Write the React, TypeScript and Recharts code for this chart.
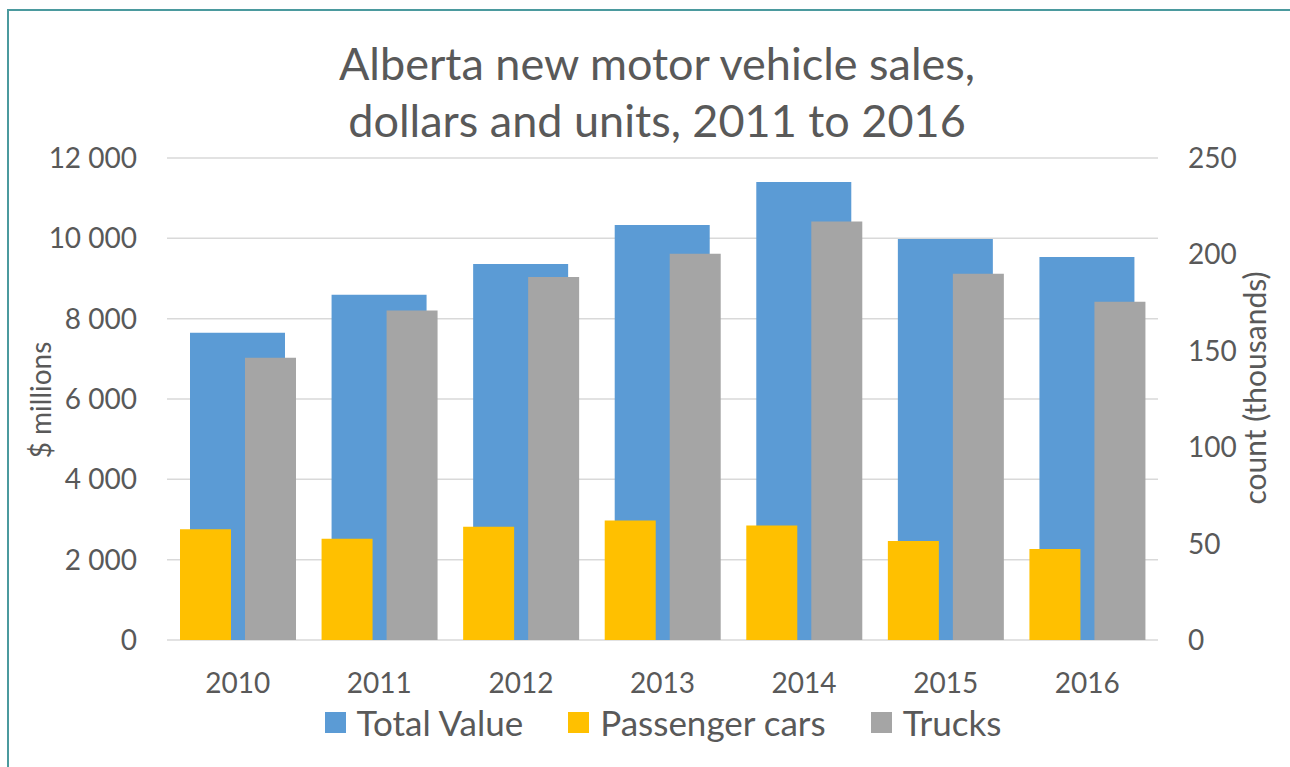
import React from 'react';
import { BarChart, Bar, XAxis, YAxis, CartesianGrid, Legend } from 'recharts';

const years = ['2010', '2011', '2012', '2013', '2014', '2015', '2016'];
const totalValue = [7647, 8593, 9363, 10333, 11403, 9985, 9537];
const passengerCars = [57.4, 52.5, 58.8, 62.0, 59.4, 51.3, 47.2];
const trucks = [146.4, 170.9, 188.3, 200.4, 217.0, 189.9, 175.5];

const leftTicks = [0, 2000, 4000, 6000, 8000, 10000, 12000];
const rightTicks = [0, 50, 100, 150, 200, 250];
const legendOrder = ['Total Value', 'Passenger cars', 'Trucks'];

const FONT = 'Lato, "Open Sans", sans-serif';
const TEXT = '#595959';

const data = years.map((y, i) => ({
  year: y,
  total: totalValue[i],
  cars: passengerCars[i],
  trucks: trucks[i],
}));

const spaced = (v: number) => String(v).replace(/\B(?=(\d{3})+(?!\d))/g, ' ');

const tickStyle = { fill: TEXT, fontSize: 28, fontFamily: FONT };

const renderLegend = (props: any) => {
  const items = [...(props.payload || [])].sort(
    (a: any, b: any) => legendOrder.indexOf(a.value) - legendOrder.indexOf(b.value)
  );
  return (
    <div style={{ display: 'flex', justifyContent: 'center', alignItems: 'center', height: 40, transform: 'translateX(18px)' }}>
      {items.map((p: any, i: number) => (
        <div key={p.value} style={{ display: 'flex', alignItems: 'center', marginLeft: i === 0 ? 0 : 45 }}>
          <span style={{ width: 21, height: 21, background: p.color, display: 'inline-block', marginRight: 11 }} />
          <span style={{ color: TEXT, fontSize: 35, fontFamily: FONT, lineHeight: '40px' }}>{p.value}</span>
        </div>
      ))}
    </div>
  );
};

export default function App() {
  return (
    <div style={{ position: 'absolute', left: 0, top: 0, width: 1290, height: 767, background: '#fff', overflow: 'hidden' }}>
      <div style={{ position: 'absolute', left: 7, top: 9, width: 1300, height: 800, borderTop: '2px solid #4b9a9e', borderLeft: '2px solid #4b9a9e' }} />
      <BarChart
        width={1290}
        height={767}
        data={data}
        margin={{ top: 158, right: 0, left: 0, bottom: 25 }}
        barGap={14}
        style={{ position: 'absolute', left: 0, top: 0 }}
      >
        <text x={657} y={80} textAnchor="middle" fill={TEXT} fontSize={45} fontFamily={FONT}>
          Alberta new motor vehicle sales,
        </text>
        <text x={657} y={137} textAnchor="middle" fill={TEXT} fontSize={45} fontFamily={FONT}>
          dollars and units, 2011 to 2016
        </text>
        <text x={40} y={400} transform="rotate(-90 40 400)" textAnchor="middle" dominantBaseline="central" fill={TEXT} fontSize={28} fontFamily={FONT}>
          $ millions
        </text>
        <text x={1254} y={388} transform="rotate(-90 1254 388)" textAnchor="middle" dominantBaseline="central" fill={TEXT} fontSize={30} fontFamily={FONT}>
          count (thousands)
        </text>
        <CartesianGrid vertical={false} stroke="#d9d9d9" strokeWidth={1.5} xAxisId="main" yAxisId="left" />
        <XAxis
          xAxisId="main"
          dataKey="year"
          height={62}
          axisLine={false}
          tickLine={false}
          tickSize={0}
          tickMargin={33}
          tick={tickStyle}
        />
        <XAxis xAxisId="sec" dataKey="year" hide />
        <YAxis
          yAxisId="left"
          width={167}
          domain={[0, 12000]}
          ticks={leftTicks}
          tickFormatter={spaced}
          axisLine={false}
          tickLine={false}
          tickSize={0}
          tickMargin={30}
          tick={tickStyle}
        />
        <YAxis
          yAxisId="right"
          orientation="right"
          width={132}
          domain={[0, 250]}
          ticks={rightTicks}
          axisLine={false}
          tickLine={false}
          tickSize={0}
          tickMargin={30}
          tick={tickStyle}
        />
        <Legend verticalAlign="bottom" content={renderLegend} />
        <Bar dataKey="total" name="Total Value" xAxisId="main" yAxisId="left" fill="#5B9BD5" barSize={95} isAnimationActive={false} />
        <Bar dataKey="cars" name="Passenger cars" xAxisId="sec" yAxisId="right" fill="#FFC000" barSize={51} isAnimationActive={false} />
        <Bar dataKey="trucks" name="Trucks" xAxisId="sec" yAxisId="right" fill="#A5A5A5" barSize={51} isAnimationActive={false} />
      </BarChart>
    </div>
  );
}
